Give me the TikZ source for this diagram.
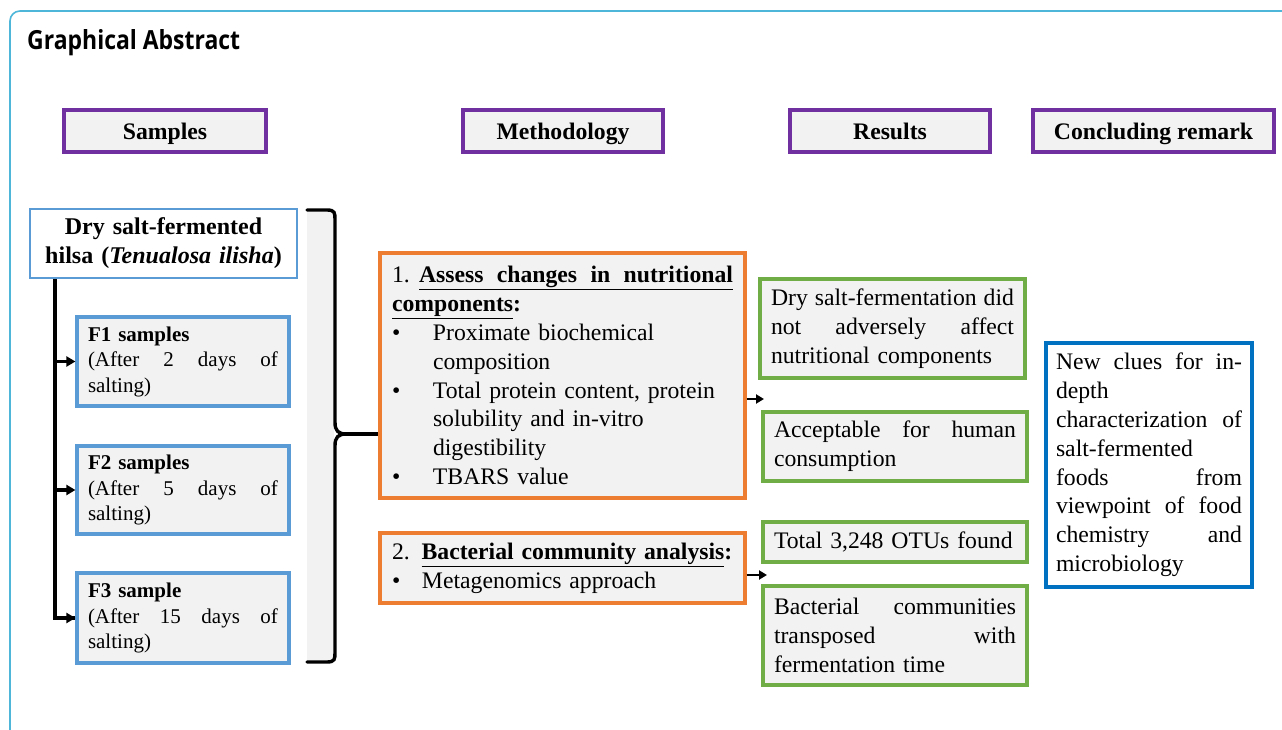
\documentclass[tikz,border=0pt]{standalone}
\usepackage{fontspec}
\setmainfont{Liberation Serif}
\newfontfamily\titlefont{Open Sans}
\usepackage{graphicx}
\usetikzlibrary{arrows.meta}
\definecolor{framec}{HTML}{4DB6D9}
\definecolor{hpurple}{HTML}{7030A0}
\definecolor{sblue}{HTML}{5B9BD5}
\definecolor{morange}{HTML}{ED7D31}
\definecolor{rgreen}{HTML}{70AD47}
\definecolor{cblue}{HTML}{0070C0}
\definecolor{boxfill}{HTML}{F2F2F2}
\newcommand{\jl}[1]{{\spaceskip=0pt\xspaceskip=0pt\makebox[\hsize][s]{#1}}}
\newcommand{\bul}{\makebox[41pt][l]{\textbullet}}
\newcommand{\ind}{\hspace*{41pt}}
\begin{document}
\begin{tikzpicture}[x=1pt,y=-1pt,
  basebox/.style={draw, fill=boxfill, line width=3.2pt, inner sep=0pt, align=left,
    font=\fontsize{23.7}{28.8}\selectfont},
  hdrbox/.style={basebox, draw=hpurple, minimum height=42pt, align=center, text height=20pt, text depth=2pt,
    font=\fontsize{23.7}{28.8}\selectfont\bfseries},
  sbox/.style={basebox, draw=sblue, minimum width=212pt, text width=190pt, font=\fontsize{21}{25.5}\selectfont},
  mbox/.style={basebox, draw=morange, minimum width=365pt, text width=341pt},
  rbox/.style={basebox, draw=rgreen, minimum width=264pt, text width=242pt},
  cbox/.style={basebox, draw=cblue, fill=white, minimum width=206pt, minimum height=244pt, text width=186pt},
  conn/.style={line width=3.2pt, -{Triangle[length=9pt,width=10pt]}},
  brace/.style={line width=3.4pt, line cap=round}
]
\useasboundingbox (0,0) rectangle (1282,730);
% frame
\draw[framec, line width=1.6pt, rounded corners=10pt] (10,740) -- (10,11) -- (1290,11);
\node[anchor=base west, inner sep=0pt] (title) at (27,50) {\resizebox{213pt}{20pt}{\titlefont\bfseries Graphical Abstract}};

% headers
\node[hdrbox, minimum width=202pt] (hS) at (165,131) {Samples};
\node[hdrbox, minimum width=200pt] (hM) at (563,131) {Methodology};
\node[hdrbox, minimum width=200pt] (hR) at (890,131) {Results};
\node[hdrbox, minimum width=241pt] (hC) at (1153.5,131) {Concluding remark};

% samples
\node[basebox, draw=sblue, fill=white, line width=2.2pt, minimum width=267pt, minimum height=69pt,
  text width=260pt, align=center, font=\fontsize{24}{29}\selectfont\bfseries] (dry) at (163.5,243.5)
  {Dry salt-fermented\\hilsa (\textit{Tenualosa ilisha})};
\node[sbox, minimum height=89pt] (f1) at (183,361.5)
  {\textbf{F1 samples}\\\jl{(After 2 days of}\\salting)};
\node[sbox, minimum height=88pt] (f2) at (183,490)
  {\textbf{F2 samples}\\\jl{(After 5 days of}\\salting)};
\node[sbox, minimum height=90pt] (f3) at (183,618)
  {\textbf{F3 sample}\\\jl{(After 15 days of}\\salting)};

\coordinate (trunk) at (55,0);
\draw[line width=3.2pt] (dry.south -| trunk) |- (f3.west);
\draw[conn] (trunk |- f1.west) -- (f1.west);
\draw[conn] (trunk |- f2.west) -- (f2.west);
\draw[conn] (trunk |- f3.west) -- (f3.west);

% brace
\fill[boxfill] (307,209) rectangle (334,662);
\draw[brace] (307,210) -- (327,210) .. controls (335,210) and (335,213) .. (335,220)
  -- (335,422) .. controls (335,431) and (338,434) .. (347,434);
\draw[brace] (307,662) -- (327,662) .. controls (335,662) and (335,659) .. (335,652)
  -- (335,446) .. controls (335,437) and (338,434) .. (347,434);
\draw[line width=3.4pt] (338,434) -- (378,434);

% methodology
\node[mbox, minimum height=245pt] (m1) at (562.5,375.5)
  {\jl{1. \underline{\makebox[314pt][s]{\bfseries Assess changes in nutritional}}}\\
   \underline{\textbf{components}}\textbf{:}\\
   \bul Proximate biochemical\\
   \ind composition\\
   \bul Total protein content, protein\\
   \ind solubility and in-vitro\\
   \ind digestibility\\
   \bul TBARS value};
\node[mbox, minimum height=70pt] (m2) at (562.5,568)
  {2. \underline{\textbf{Bacterial community analysis}}\textbf{:}\\
   \makebox[30pt][l]{\textbullet}Metagenomics approach};

% results
\node[rbox, minimum width=265pt, text width=243pt, minimum height=99pt] (r1) at (892.5,328.5)
  {\jl{Dry salt-fermentation did}\\\jl{not adversely affect}\\nutritional components};
\node[rbox, minimum height=69pt] (r2) at (895,446.5)
  {\jl{Acceptable for human}\\consumption};
\node[rbox, minimum height=40pt] (r3) at (895,542)
  {Total 3,248 OTUs found};
\node[rbox, minimum height=99pt] (r4) at (895,635.5)
  {\jl{Bacterial communities}\\\jl{transposed with}\\fermentation time};

\coordinate (a1) at (764,399);
\coordinate (a2) at (767,575);
\draw[line width=2.8pt, -{Triangle[length=8pt,width=9pt]}] (m1.east |- a1) -- (a1);
\draw[line width=2.8pt, -{Triangle[length=8pt,width=9pt]}] (m2.east |- a2) -- (a2);

% conclusion
\node[cbox] (conc) at (1149,465)
  {\jl{New clues for in-}\\depth\\\jl{characterization of}\\salt-fermented\\\jl{foods from}\\\jl{viewpoint of food}\\\jl{chemistry and}\\microbiology};
\end{tikzpicture}
\end{document}
